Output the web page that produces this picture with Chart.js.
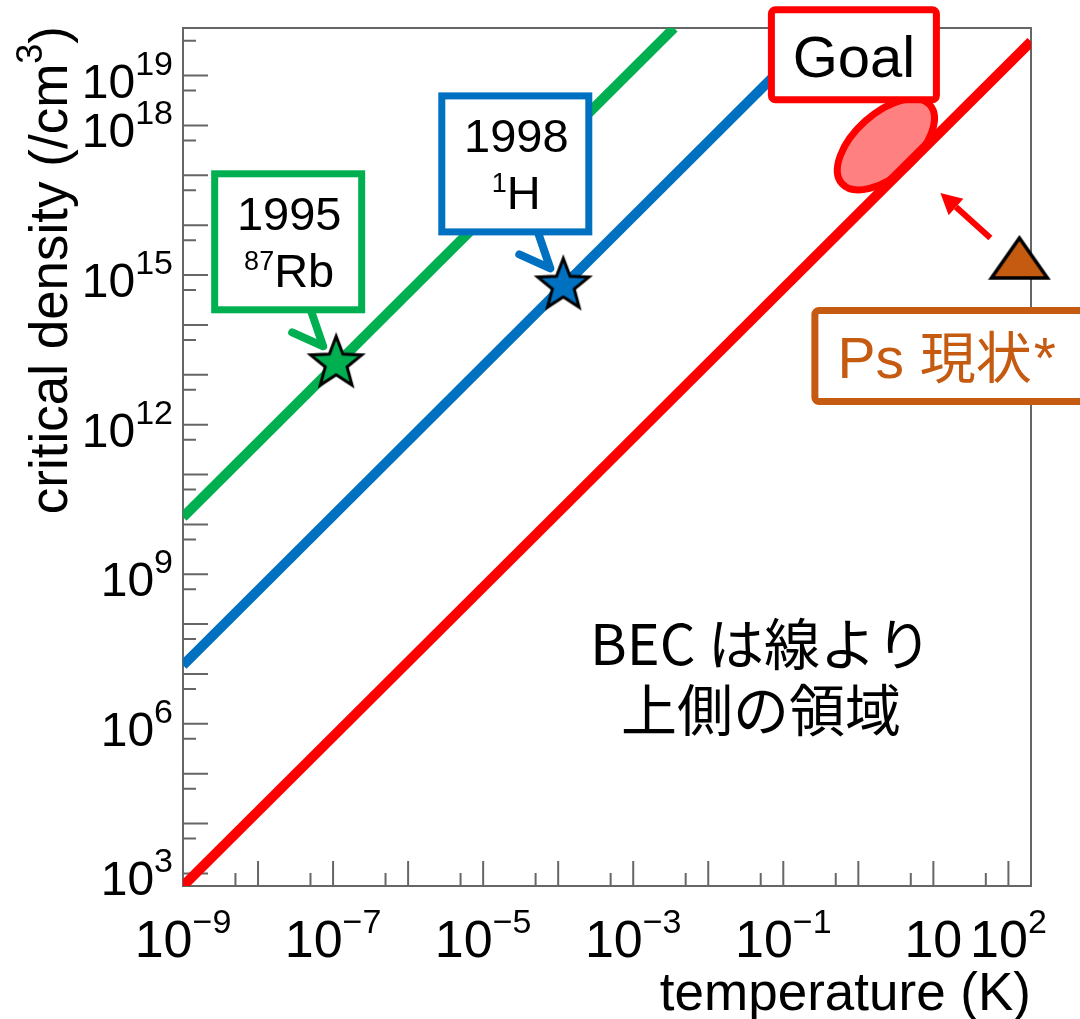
<!DOCTYPE html>
<html>
<head>
<meta charset="utf-8">
<script src="https://cdn.jsdelivr.net/npm/chart.js@4.4.1/dist/chart.umd.min.js"></script>
<style>
  html,body{margin:0;padding:0;background:#fff;}
  canvas{display:block;}
</style>
</head>
<body>
<canvas id="becChart" width="1080" height="1019"></canvas>
<script>
// axis ranges
const tempMin = 1e-9, tempMax = 200;
const densMin = 5.6e2, densMax = 9e19;

// critical density lines, end points (n ~ T^1.5)
const psLineT = [1e-9, 200];
const psLineN = [5.6e2, 4.8e19];
const hLineT  = [1e-9, 0.33];
const hLineN  = [1.5e7, 9e19];
const rbLineT = [1e-9, 3.5e-3];
const rbLineN = [1.4e10, 9e19];

// markers
const rbPoint = [1.1e-7, 1.7e13];   // 1995 87Rb
const hPoint  = [1.17e-4, 6.2e14];  // 1998 1H
const psNow   = [140, 2.2e15];      // Ps now
const goalCenter = [2.33, 4.2e17];

// tick labels
const xTickVals = [1e-9, 1e-7, 1e-5, 1e-3, 1e-1, 10, 100];
const xTickExps = ["\u22129", "\u22127", "\u22125", "\u22123", "\u22121", "", "2"];
const yTickVals = [1e3, 1e6, 1e9, 1e12, 1e15, 1e18, 1e19];
const yTickExps = ["3", "6", "9", "12", "15", "18", "19"];

const RED = "#ff0000", BLUE = "#0070c0", GREEN = "#00b050", BROWN = "#c55a11";
const LAT = '"Liberation Sans", Arial, sans-serif';
const JP = '"Noto Sans CJK JP", sans-serif';

function makeStar(fill){
  const c = document.createElement("canvas");
  c.width = 70; c.height = 70;
  const g = c.getContext("2d");
  const R = 27, r = 11.5;
  g.beginPath();
  for(let i=0;i<10;i++){
    const rad = i%2 ? r : R;
    const a = -Math.PI/2 + i*Math.PI/5;
    g.lineTo(35 + rad*Math.cos(a), 35 + rad*Math.sin(a));
  }
  g.closePath();
  g.fillStyle = fill; g.fill();
  g.lineWidth = 3; g.strokeStyle = "#000"; g.stroke();
  return c;
}
function makeTriangle(){
  const c = document.createElement("canvas");
  c.width = 64; c.height = 46;
  const g = c.getContext("2d");
  g.beginPath();
  g.moveTo(32, 3); g.lineTo(60, 43); g.lineTo(4, 43); g.closePath();
  g.fillStyle = BROWN; g.fill();
  g.lineWidth = 3.5; g.strokeStyle = "#000"; g.stroke();
  return c;
}

function pts(ts, ns){ return ts.map((t,i)=>({x:t, y:ns[i]})); }

function supText(ctx, base, exp, x, y, align, fBase, fSup, raise){
  ctx.font = fBase; const wb = ctx.measureText(base).width;
  ctx.font = fSup; const ws = exp ? ctx.measureText(exp).width : 0;
  let sx = x;
  if(align==="right") sx = x - wb - ws;
  else if(align==="center") sx = x - (wb+ws)/2;
  ctx.textAlign = "left"; ctx.textBaseline = "alphabetic";
  ctx.font = fBase; ctx.fillText(base, sx, y);
  if(exp){ ctx.font = fSup; ctx.fillText(exp, sx+wb, y-raise); }
}
function preSupText(ctx, sup, base, x, y, fBase, fSup, raise){
  ctx.font = fSup; const ws = ctx.measureText(sup).width;
  ctx.font = fBase; const wb = ctx.measureText(base).width;
  const sx = x - (wb+ws)/2;
  ctx.textAlign = "left"; ctx.textBaseline = "alphabetic";
  ctx.font = fSup; ctx.fillText(sup, sx, y-raise);
  ctx.font = fBase; ctx.fillText(base, sx+ws, y);
}

function drawCallout(ctx, sx, sy, color, line1, sup, line2){
  ctx.save();
  ctx.strokeStyle = color; ctx.lineWidth = 7;
  ctx.fillStyle = "#fff";
  ctx.fillRect(sx-121.5, sy-189.5, 147, 136);
  ctx.strokeRect(sx-121.5, sy-189.5, 147, 136);
  ctx.lineWidth = 8; ctx.lineCap = "round"; ctx.lineJoin = "round";
  ctx.beginPath();
  ctx.moveTo(sx-25, sy-52);
  ctx.lineTo(sx-13, sy-17);
  ctx.lineTo(sx-44, sy-31);
  ctx.stroke();
  ctx.fillStyle = "#000";
  ctx.font = "47px " + LAT; ctx.textAlign = "center";
  ctx.fillText(line1, sx-47, sy-133);
  preSupText(ctx, sup, line2, sx-47, sy-76, "47px " + LAT, "27px " + LAT, 17);
  ctx.restore();
}

const overlay = {
  id: "overlay",
  beforeDraw(chart){
    const ctx = chart.ctx;
    ctx.save(); ctx.fillStyle = "#fff"; ctx.fillRect(0,0,chart.width,chart.height); ctx.restore();
  },
  beforeDatasetsDraw(chart){
    const {ctx, chartArea:a, scales:{x, y}} = chart;
    this._boxes = false;
    ctx.save();
    ctx.strokeStyle = "#666"; ctx.lineWidth = 2;
    ctx.strokeRect(a.left, a.top, a.right-a.left, a.bottom-a.top);
    ctx.beginPath();
    for(let e=-9;e<=2;e++){
      for(const m of [1,5]){
        const v = m*Math.pow(10,e);
        if(v<tempMin*0.999 || v>tempMax) continue;
        const px = x.getPixelForValue(v);
        ctx.moveTo(px, a.bottom); ctx.lineTo(px, a.bottom-(m===1?25:13));
      }
    }
    for(let e=2;e<=19;e++){
      for(const m of [1,5]){
        const v = m*Math.pow(10,e);
        if(v<densMin || v>densMax) continue;
        const py = y.getPixelForValue(v);
        ctx.moveTo(a.left, py); ctx.lineTo(a.left+(m===1?25:13), py);
      }
    }
    ctx.stroke();
    // goal region
    const gx = x.getPixelForValue(goalCenter[0]), gy = y.getPixelForValue(goalCenter[1]);
    ctx.beginPath();
    ctx.ellipse(gx, gy, 59, 31, -42*Math.PI/180, 0, Math.PI*2);
    ctx.fillStyle = "#ff8080"; ctx.fill();
    ctx.lineWidth = 7; ctx.strokeStyle = RED; ctx.stroke();
    ctx.restore();
  },
  beforeDatasetDraw(chart, args){
    if(!this._boxes && chart.data.datasets[args.index].isMarker){
      this.drawBoxes(chart);
      this._boxes = true;
    }
  },
  drawBoxes(chart){
    const {ctx, scales:{x, y}} = chart;
    drawCallout(ctx, x.getPixelForValue(rbPoint[0]), y.getPixelForValue(rbPoint[1]), GREEN, "1995", "87", "Rb");
    drawCallout(ctx, x.getPixelForValue(hPoint[0]), y.getPixelForValue(hPoint[1]), BLUE, "1998", "1", "H");
  },
  afterDraw(chart){
    const {ctx, chartArea:a, scales:{x, y}} = chart;
    ctx.save();
    ctx.fillStyle = "#000";
    // tick labels
    xTickVals.forEach((v,i)=>{
      supText(ctx, "10", xTickExps[i], x.getPixelForValue(v), a.bottom+71, "center", "52px " + LAT, "34px " + LAT, 24);
    });
    yTickVals.forEach((v,i)=>{
      supText(ctx, "10", yTickExps[i], a.left-10, y.getPixelForValue(v)+22, "right", "48px " + LAT, "34px " + LAT, 23);
    });
    // axis titles
    ctx.font = "53px " + LAT; ctx.textAlign = "right";
    ctx.fillText("temperature (K)", a.right, 1010);
    ctx.save();
    ctx.translate(67, 26); ctx.rotate(-Math.PI/2);
    ctx.font = "53px " + LAT;
    const wMain = ctx.measureText("critical density (/cm").width;
    const wClose = ctx.measureText(")").width;
    ctx.font = "36px " + LAT;
    const w3 = ctx.measureText("3").width;
    const st = -(wMain + w3 + wClose);
    ctx.textAlign = "left";
    ctx.font = "53px " + LAT; ctx.fillText("critical density (/cm", st, 0);
    ctx.font = "36px " + LAT; ctx.fillText("3", st+wMain, -25);
    ctx.font = "53px " + LAT; ctx.fillText(")", st+wMain+w3, 0);
    ctx.restore();

    // Goal box
    const gx = x.getPixelForValue(goalCenter[0]), gy = y.getPixelForValue(goalCenter[1]);
    ctx.beginPath();
    ctx.roundRect(gx-114.5, gy-134.5, 165, 90, 4);
    ctx.fillStyle = "#fff"; ctx.fill();
    ctx.lineWidth = 7; ctx.strokeStyle = RED; ctx.stroke();
    ctx.fillStyle = "#000"; ctx.font = "58px " + LAT; ctx.textAlign = "center";
    ctx.fillText("Goal", gx-32, gy-67);

    // Ps now: arrow + label box
    const px = x.getPixelForValue(psNow[0]), py = y.getPixelForValue(psNow[1]);
    ctx.strokeStyle = RED; ctx.fillStyle = RED; ctx.lineWidth = 6;
    const tipX = px-79, tipY = py-65;
    const ang = Math.atan2(py-20-tipY, px-29-tipX);
    const hx = tipX + 21*Math.cos(ang), hy = tipY + 21*Math.sin(ang);
    ctx.beginPath(); ctx.moveTo(px-29, py-20); ctx.lineTo(hx, hy); ctx.stroke();
    ctx.beginPath();
    ctx.moveTo(tipX, tipY);
    ctx.lineTo(hx + 11*Math.sin(ang), hy - 11*Math.cos(ang));
    ctx.lineTo(hx - 11*Math.sin(ang), hy + 11*Math.cos(ang));
    ctx.closePath(); ctx.fill();

    ctx.beginPath();
    ctx.roundRect(px-204.5, py+52.5, 300, 91, 4);
    ctx.fillStyle = "#fff"; ctx.fill();
    ctx.lineWidth = 7; ctx.strokeStyle = BROWN; ctx.stroke();
    ctx.fillStyle = BROWN; ctx.textAlign = "left";
    ctx.font = "57px " + LAT;
    ctx.fillText("Ps ", px-182, py+120);
    const wPs = ctx.measureText("Ps ").width;
    ctx.font = "56px " + JP;
    ctx.fillText("現状", px-182+wPs, py+120);
    const wJ = ctx.measureText("現状").width;
    ctx.font = "57px " + LAT;
    ctx.fillText("*", px-182+wPs+wJ+2, py+120);

    // note
    ctx.fillStyle = "#000"; ctx.font = "56px " + JP; ctx.textAlign = "center";
    ctx.fillText("BEC は線より", 761, 665);
    ctx.fillText("上側の領域", 761, 731);
    ctx.restore();
  }
};

new Chart(document.getElementById("becChart"), {
  type: "scatter",
  data: {
    datasets: [
      { label: "87Rb 1995", data: [{x:rbPoint[0], y:rbPoint[1]}], pointStyle: makeStar(GREEN), pointRadius: 10, clip: false, isMarker: true, order: 1 },
      { label: "1H 1998", data: [{x:hPoint[0], y:hPoint[1]}], pointStyle: makeStar(BLUE), pointRadius: 10, clip: false, isMarker: true, order: 1 },
      { label: "Ps now", data: [{x:psNow[0], y:psNow[1]}], pointStyle: makeTriangle(), pointRadius: 10, clip: false, isMarker: true, order: 1 },
      { label: "Rb", data: pts(rbLineT, rbLineN), showLine: true, borderColor: GREEN, borderWidth: 10, pointRadius: 0, order: 2 },
      { label: "H", data: pts(hLineT, hLineN), showLine: true, borderColor: BLUE, borderWidth: 10, pointRadius: 0, order: 2 },
      { label: "Ps", data: pts(psLineT, psLineN), showLine: true, borderColor: RED, borderWidth: 10, pointRadius: 0, order: 2 }
    ]
  },
  options: {
    responsive: false,
    animation: false,
    devicePixelRatio: 1,
    events: [],
    layout: { padding: { top: 28, right: 49, left: 0, bottom: 0 } },
    plugins: { legend: { display: false }, tooltip: { enabled: false } },
    scales: {
      x: { type: "logarithmic", min: tempMin, max: tempMax,
           grid: { display: false }, border: { display: false }, ticks: { display: false },
           afterFit: s => { s.height = 133; } },
      y: { type: "logarithmic", min: densMin, max: densMax,
           grid: { display: false }, border: { display: false }, ticks: { display: false },
           afterFit: s => { s.width = 183; } }
    }
  },
  plugins: [overlay]
});
</script>
</body>
</html>
